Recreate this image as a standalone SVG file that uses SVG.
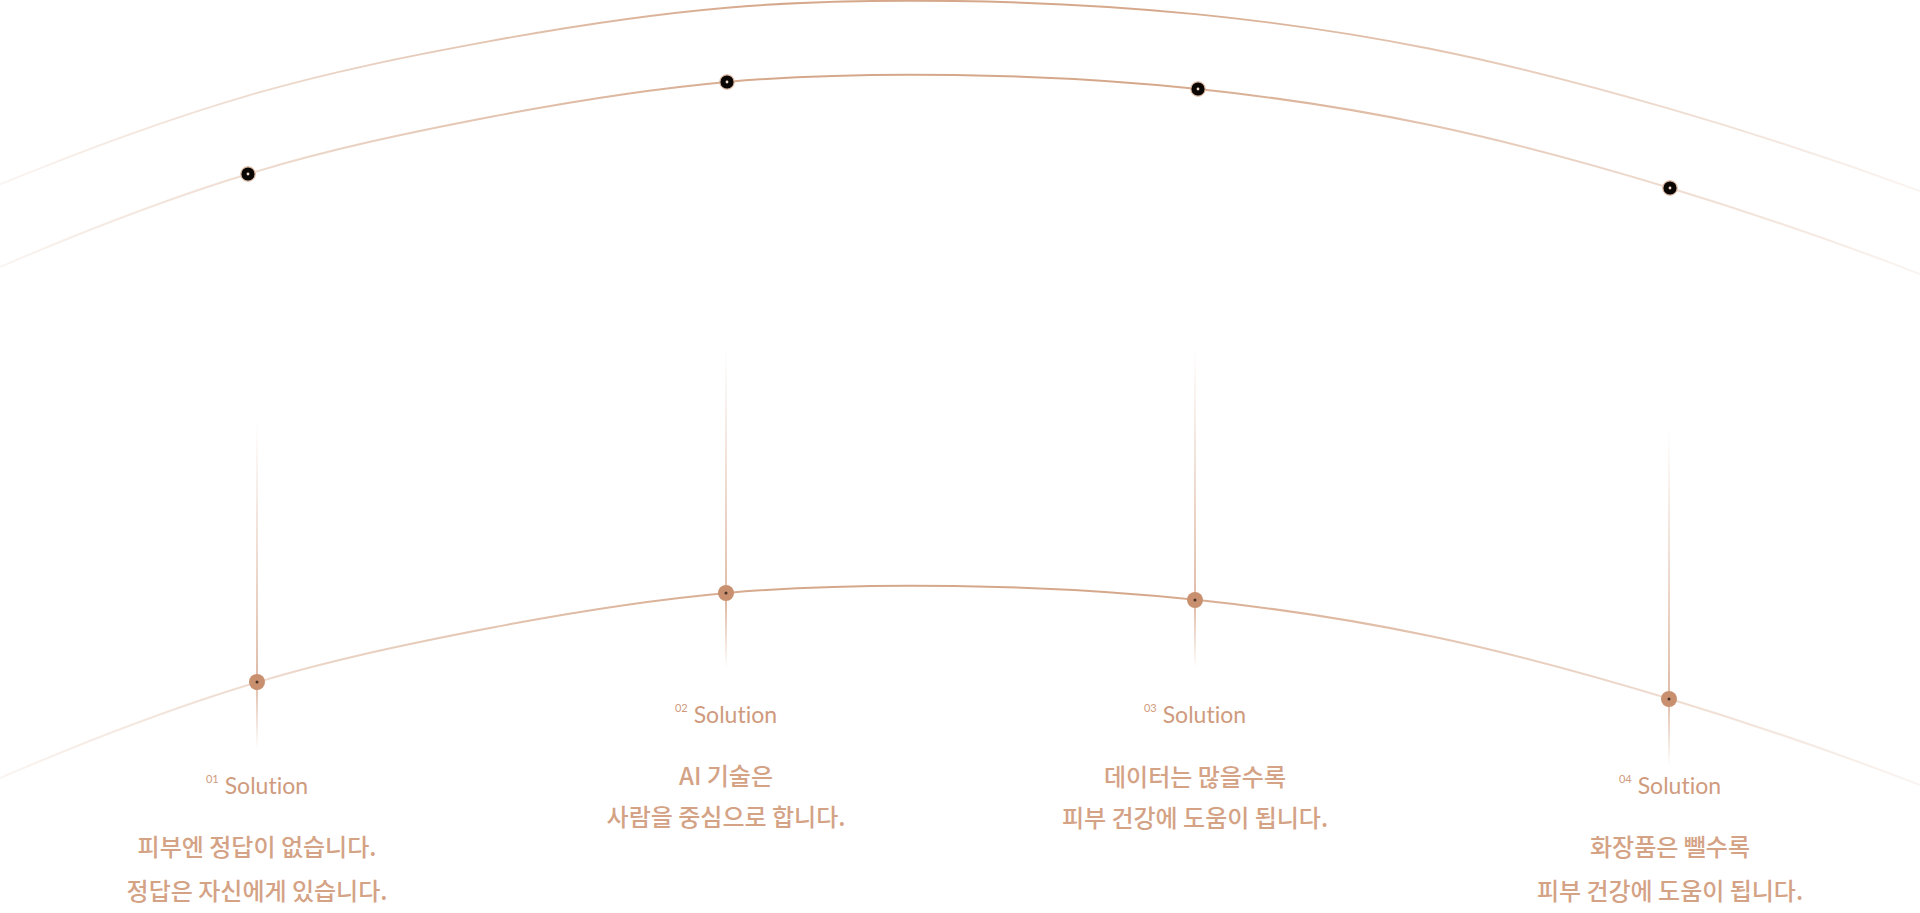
<svg xmlns="http://www.w3.org/2000/svg" width="1920" height="913" viewBox="0 0 1920 913">
<defs>
<style>
.arc{fill:none;stroke:url(#arcGrad);stroke-width:2}
.vline{fill:url(#vGrad)}
.topdot{fill:#0a0604;stroke:#dcb9a3;stroke-width:1.2}
.topcore{fill:#f3dccd}
.botdot{fill:#c8906f}
.botcore{fill:#4a3226}
.lbl{font-family:Lato,"Noto Sans",sans-serif;font-size:23px;fill:#cf9b7e;text-anchor:middle;font-variant-ligatures:none}
.num{font-size:11px}
.body{font-family:"Noto Sans CJK KR","Noto Sans",sans-serif;font-size:24px;font-weight:500;fill:#d4a285;text-anchor:middle}
</style>
<linearGradient id="arcGrad" gradientUnits="userSpaceOnUse" x1="0" y1="0" x2="1920" y2="0">
<stop offset="0" stop-color="#d6a88b" stop-opacity="0.12"/>
<stop offset="0.4" stop-color="#d6a88b" stop-opacity="1"/>
<stop offset="0.6" stop-color="#d6a88b" stop-opacity="1"/>
<stop offset="1" stop-color="#d6a88b" stop-opacity="0.12"/>
</linearGradient>
<linearGradient id="vGrad" x1="0" y1="0" x2="0" y2="1">
<stop offset="0" stop-color="#d3a083" stop-opacity="0"/>
<stop offset="0.8" stop-color="#d3a083" stop-opacity="0.95"/>
<stop offset="1" stop-color="#d3a083" stop-opacity="0"/>
</linearGradient>
</defs>
<rect width="1920" height="913" fill="#ffffff"/>
<g id="connectors">
<path class="arc" transform="matrix(1 0 0 0.955 0 -70.6)" d="M0,267 C82.67,231.45 165.33,199.3 248,174 C328.67,149.31 409.33,132.49 490,117 C569,101.83 648,89.13 727,82 C803,75.14 879,73.87 955,75 C1036,76.21 1117,80.5 1198,89 C1275.33,97.12 1352.67,108.78 1430,125 C1510,141.78 1590,163.68 1670,188 C1753.33,213.33 1836.67,241.83 1920,274"/>
<path class="arc" d="M0,267 C82.67,231.45 165.33,199.3 248,174 C328.67,149.31 409.33,132.49 490,117 C569,101.83 648,89.13 727,82 C803,75.14 879,73.87 955,75 C1036,76.21 1117,80.5 1198,89 C1275.33,97.12 1352.67,108.78 1430,125 C1510,141.78 1590,163.68 1670,188 C1753.33,213.33 1836.67,241.83 1920,274"/>
<path class="arc" d="M0,778 C82.67,742.45 165.33,710.3 248,685 C328.67,660.31 409.33,643.49 490,628 C569,612.83 648,600.13 727,593 C803,586.14 879,584.87 955,586 C1036,587.21 1117,591.5 1198,600 C1275.33,608.12 1352.67,619.78 1430,636 C1510,652.78 1590,674.68 1670,699 C1753.33,724.33 1836.67,752.83 1920,785"/>
<rect class="vline" x="256.25" y="420" width="1.5" height="328"/>
<rect class="vline" x="725.25" y="349" width="1.5" height="319"/>
<rect class="vline" x="1194.25" y="349" width="1.5" height="319"/>
<rect class="vline" x="1668.25" y="428" width="1.5" height="338"/>
</g>
<g id="solution-01">
<circle class="topdot" cx="248" cy="174" r="7.2"/><circle class="topcore" cx="248" cy="174" r="1.4"/>
<circle class="botdot" cx="257" cy="682" r="8"/><circle class="botcore" cx="257" cy="682" r="1.5"/>
<text class="lbl" x="257" y="794"><tspan class="num" dy="-11">01</tspan><tspan dx="6" dy="11">Solution</tspan></text>
<text class="body" x="257" y="856">피부엔 정답이 없습니다.</text>
<text class="body" x="257" y="900">정답은 자신에게 있습니다.</text>
</g>
<g id="solution-02">
<circle class="topdot" cx="727" cy="82" r="7.2"/><circle class="topcore" cx="727" cy="82" r="1.4"/>
<circle class="botdot" cx="726" cy="593" r="8"/><circle class="botcore" cx="726" cy="593" r="1.5"/>
<text class="lbl" x="726" y="723"><tspan class="num" dy="-11">02</tspan><tspan dx="6" dy="11">Solution</tspan></text>
<text class="body" x="726" y="785">AI 기술은</text>
<text class="body" x="726" y="826">사람을 중심으로 합니다.</text>
</g>
<g id="solution-03">
<circle class="topdot" cx="1198" cy="89" r="7.2"/><circle class="topcore" cx="1198" cy="89" r="1.4"/>
<circle class="botdot" cx="1195" cy="600" r="8"/><circle class="botcore" cx="1195" cy="600" r="1.5"/>
<text class="lbl" x="1195" y="723"><tspan class="num" dy="-11">03</tspan><tspan dx="6" dy="11">Solution</tspan></text>
<text class="body" x="1195" y="786">데이터는 많을수록</text>
<text class="body" x="1195" y="827">피부 건강에 도움이 됩니다.</text>
</g>
<g id="solution-04">
<circle class="topdot" cx="1670" cy="188" r="7.2"/><circle class="topcore" cx="1670" cy="188" r="1.4"/>
<circle class="botdot" cx="1669" cy="699" r="8"/><circle class="botcore" cx="1669" cy="699" r="1.5"/>
<text class="lbl" x="1670" y="794"><tspan class="num" dy="-11">04</tspan><tspan dx="6" dy="11">Solution</tspan></text>
<text class="body" x="1670" y="856">화장품은 뺄수록</text>
<text class="body" x="1670" y="900">피부 건강에 도움이 됩니다.</text>
</g>
</svg>
